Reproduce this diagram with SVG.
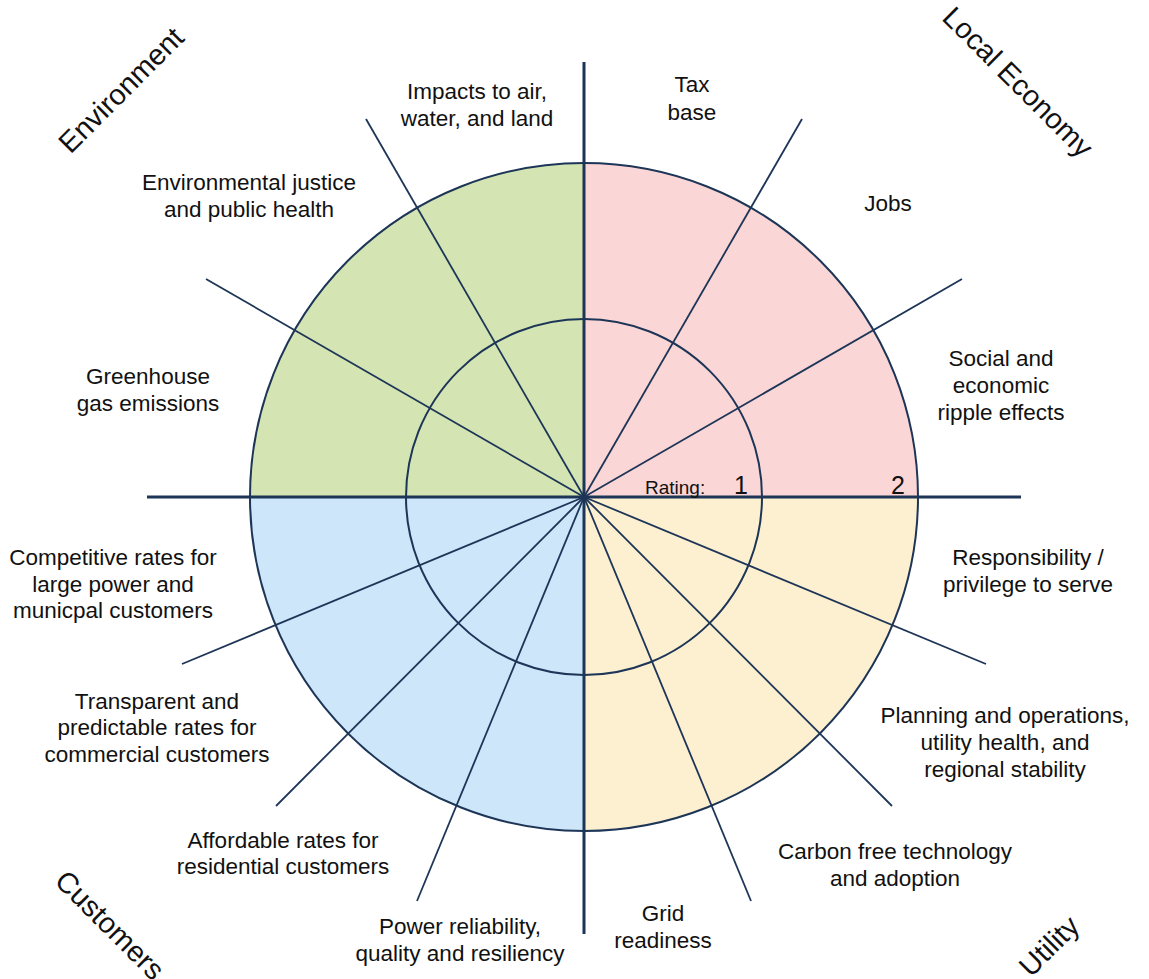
<svg xmlns="http://www.w3.org/2000/svg" width="1149" height="979" viewBox="0 0 1149 979">
<style>
.ln{stroke:#1d3557;fill:none}
.ax{stroke:#1d3557;stroke-width:3}
.sp{stroke:#1d3557;stroke-width:1.8}
.ring{stroke:#1d3557;stroke-width:2;fill:none}
.t{font-family:"Liberation Sans",Arial,sans-serif;font-size:22.5px;fill:#111;text-anchor:middle}
.cat{font-family:"Liberation Sans",Arial,sans-serif;font-size:29px;fill:#111;text-anchor:middle}
.r{font-family:"Liberation Sans",Arial,sans-serif;fill:#111}
</style>
<rect width="1149" height="979" fill="#ffffff"/>
<g id="quadrants">
<path d="M584,497 L250,497 A334,334 0 0 1 584,163 Z" fill="#d4e5b3"/>
<path d="M584,497 L584,163 A334,334 0 0 1 918,497 Z" fill="#fbd6d6"/>
<path d="M584,497 L918,497 A334,334 0 0 1 584,831 Z" fill="#fdf0d1"/>
<path d="M584,497 L584,831 A334,334 0 0 1 250,497 Z" fill="#cde6f9"/>
</g>
<g id="rings">
<circle class="ring" cx="584" cy="497" r="334"/>
<circle class="ring" cx="584" cy="497" r="178"/>
</g>
<g id="connectors">
<line class="sp" x1="584" y1="497" x2="366" y2="119"/>
<line class="sp" x1="584" y1="497" x2="206" y2="279"/>
<line class="sp" x1="584" y1="497" x2="802" y2="119"/>
<line class="sp" x1="584" y1="497" x2="962" y2="279"/>
<line class="sp" x1="584" y1="497" x2="986" y2="664"/>
<line class="sp" x1="584" y1="497" x2="892" y2="806"/>
<line class="sp" x1="584" y1="497" x2="751" y2="901"/>
<line class="sp" x1="584" y1="497" x2="182" y2="664"/>
<line class="sp" x1="584" y1="497" x2="276" y2="806"/>
<line class="sp" x1="584" y1="497" x2="417" y2="901"/>
<line class="ax" x1="584" y1="62" x2="584" y2="934"/>
<line class="ax" x1="147" y1="497" x2="1021" y2="497"/>
</g>
<g id="rating">
<text class="r" x="645" y="494" font-size="19">Rating:</text>
<text class="r" x="741" y="494" font-size="25" text-anchor="middle">1</text>
<text class="r" x="898" y="494" font-size="25" text-anchor="middle">2</text>
</g>
<g id="n-impacts"><text class="t" x="477" y="99">Impacts to air,</text><text class="t" x="477" y="126">water, and land</text></g>
<g id="n-tax"><text class="t" x="692" y="92">Tax</text><text class="t" x="692" y="120">base</text></g>
<g id="n-jobs"><text class="t" x="888" y="211">Jobs</text></g>
<g id="n-social"><text class="t" x="1001" y="366">Social and</text><text class="t" x="1001" y="393">economic</text><text class="t" x="1001" y="420">ripple effects</text></g>
<g id="n-envjustice"><text class="t" x="249" y="190">Environmental justice</text><text class="t" x="249" y="217">and public health</text></g>
<g id="n-ghg"><text class="t" x="148" y="384">Greenhouse</text><text class="t" x="148" y="411">gas emissions</text></g>
<g id="n-responsibility"><text class="t" x="1028" y="565">Responsibility /</text><text class="t" x="1028" y="592">privilege to serve</text></g>
<g id="n-planning"><text class="t" x="1005" y="723">Planning and operations,</text><text class="t" x="1005" y="750">utility health, and</text><text class="t" x="1005" y="777">regional stability</text></g>
<g id="n-carbon"><text class="t" x="895" y="859">Carbon free technology</text><text class="t" x="895" y="886">and adoption</text></g>
<g id="n-grid"><text class="t" x="663" y="921">Grid</text><text class="t" x="663" y="948">readiness</text></g>
<g id="n-power"><text class="t" x="460" y="934">Power reliability,</text><text class="t" x="460" y="961">quality and resiliency</text></g>
<g id="n-affordable"><text class="t" x="283" y="848">Affordable rates for</text><text class="t" x="283" y="874">residential customers</text></g>
<g id="n-transparent"><text class="t" x="157" y="709">Transparent and</text><text class="t" x="157" y="735">predictable rates for</text><text class="t" x="157" y="762">commercial customers</text></g>
<g id="n-competitive"><text class="t" x="113" y="565">Competitive rates for</text><text class="t" x="113" y="592">large power and</text><text class="t" x="113" y="618">municpal customers</text></g>
<g id="c-environment"><text class="cat" transform="translate(121,90) rotate(-45)" y="10">Environment</text></g>
<g id="c-localeconomy"><text class="cat" transform="translate(1018,82) rotate(45)" y="10">Local Economy</text></g>
<g id="c-customers"><text class="cat" transform="translate(110,925) rotate(45)" y="10">Customers</text></g>
<g id="c-utility"><text class="cat" transform="translate(1049,946) rotate(-45)" y="10">Utility</text></g>
</svg>
